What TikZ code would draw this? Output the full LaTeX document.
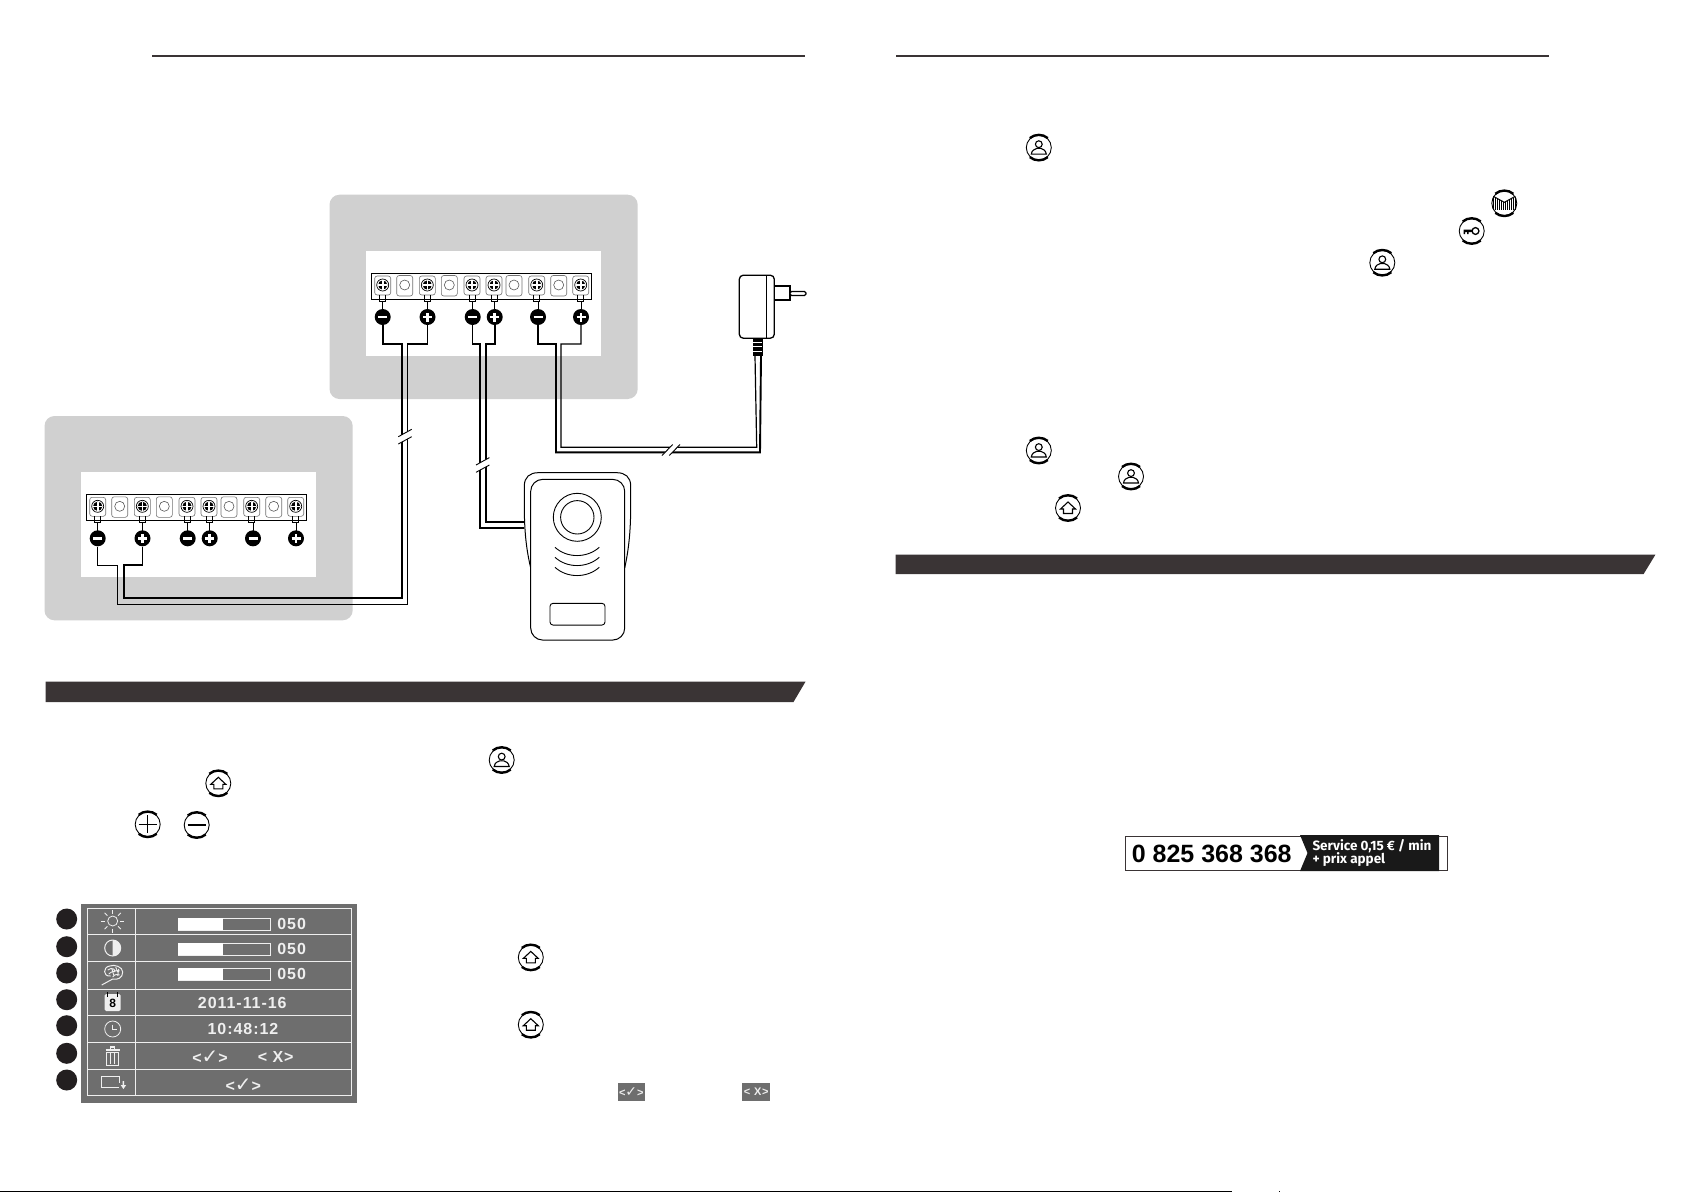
\documentclass[tikz,border=0pt]{standalone}
\usepackage{fontspec}
\newfontfamily\menufont[LetterSpace=6]{Liberation Sans Bold}
\newfontfamily\numfont{Liberation Sans Bold}
\newfontfamily\symfont{DejaVu Sans}
\newfontfamily\tagfont{Fira Sans}
\definecolor{boxgray}{HTML}{D0D0D0}
\definecolor{bardark}{HTML}{3A3435}
\definecolor{panelgray}{HTML}{6E6E6E}
\definecolor{menuwhite}{HTML}{EFEFEF}
\newcommand{\okmark}[1]{{\symfont\fontsize{#1}{#1}\selectfont\char"2713}}
\tikzset{
  ringbtn/.pic={
    \draw[line width=.9] (0,0) circle[radius=12.5pt];
    \draw[line width=2.4] (-9,-9.5) .. controls (-4,-13.8) and (4,-13.8) .. (9,-9.5);
    \draw[line width=2.4] (-9,9.5) .. controls (-4,13.8) and (4,13.8) .. (9,9.5);
  },
  personbtn/.pic={
    \pic {ringbtn};
    \draw[line width=1.1] (0,-3.4) circle[radius=3.4pt];
    \draw[line width=1.1] (-7.5,6.5) .. controls (-7,2.5) and (-4,1.5) .. (-2,.8) -- (2,.8) .. controls (4,1.5) and (7,2.5) .. (7.5,6.5) -- cycle;
  },
  homebtn/.pic={
    \pic {ringbtn};
    \draw[line width=1.1] (0,-6) -- (-7.5,1) -- (-4.5,1) -- (-4.5,5.5) -- (4.5,5.5) -- (4.5,1) -- (7.5,1) -- cycle;
  },
  plusbtn/.pic={
    \pic {ringbtn};
    \draw[line width=1.2] (-9,0) -- (9,0) (0,-9) -- (0,9);
  },
  minusbtn/.pic={
    \pic {ringbtn};
    \draw[line width=1.2] (-9,0) -- (9,0);
  },
  keybtn/.pic={
    \pic {ringbtn};
    \draw[line width=1.3] (3.8,0) circle[radius=3.4pt];
    \fill (-8,-1.5) rectangle (.8,1) (-8,1) rectangle (-6.5,3) (-4.5,1) rectangle (-3,3);
  },
  gatebtn/.pic={
    \pic {ringbtn};
    \foreach \gx/\gy in {-11/-6,-9/-5,-7/-4,-5/-3,-3/-2,-1/-1,1/-1,3/-2,5/-3,7/-4,9/-5,11/-6}
      \draw[line width=.8] (\gx,\gy) -- (\gx,6.5);
    \draw[line width=1] (-11,-7) -- (0,-1) -- (11,-7);
  },
  cutv/.pic={
    \fill[white] (-6.7,0) -- (6.7,-7.4) -- (6.7,0) -- (-6.7,7.3) -- cycle;
    \draw[line width=.9] (-6.7,0) -- (6.7,-7.4) (-6.7,7.3) -- (6.7,0);
  },
  cuth/.pic={
    \fill[white] (-9,5.5) -- (1.7,-5.5) -- (9,-5.5) -- (-1.7,5.5) -- cycle;
    \draw[line width=.9] (-9,5.5) -- (1.7,-5.5) (-1.7,5.5) -- (9,-5.5);
  },
  unitbox/.pic={
    \fill[boxgray,rounded corners=10] (329.5,194.7) rectangle (637.7,399);
    \fill[white] (366,251) rectangle (601,355.7);
    \draw[line width=.9] (371.7,273.3) rectangle (591.7,299.3);
    \foreach \hx in {404.7,449.3,514,558.7} {
      \draw[black!55,line width=.6,rounded corners=2.5] (\hx-8,275.5) rectangle (\hx+8,296);
      \draw[black!65,line width=.6] (\hx,285) circle[radius=5pt];
    }
    \foreach \sx in {382.7,427.3,472,494,536.7,580.7} {
      \draw[black!55,line width=.6,rounded corners=2.5] (\sx-8,276) rectangle (\sx+8,295);
      \draw[line width=.7] (\sx,285) circle[radius=6pt];
      \fill (\sx,285) circle[radius=4.6pt];
      \draw[white,line width=1.6] (\sx-4.6,285) -- (\sx+4.6,285) (\sx,280.4) -- (\sx,289.6);
      \draw[line width=1] (\sx-3,295) -- (\sx-3,301) -- (\sx+3,301) -- (\sx+3,295);
    }
    \foreach \bx/\bn/\bk in {382.7/1/minusmark,427.5/2/plusmark,472.7/3/minusmark,494.7/4/plusmark,538/5/minusmark,581/6/plusmark} {
      \draw[line width=1] (\bx,301) -- (\bx,310);
      \node[badgedot,\bk] (-b\bn) at (\bx,317) {};
    }
  },
  sunicon/.pic={
    \draw[menuwhite,line width=.8] (0,0) circle[radius=5pt];
    \foreach \a in {0,45,...,315}
      \draw[menuwhite,line width=.8] (\a:7.5pt) -- (\a:11.5pt);
  },
  halficon/.pic={
    \draw[menuwhite,line width=1] (0,0) circle[radius=8pt];
    \fill[menuwhite] (0,-8) arc[start angle=90,end angle=-90,radius=8pt] -- cycle;
  },
  brainicon/.pic={
    \draw[menuwhite,line width=1] (-2,2) .. controls (-10,3) and (-10,-7) .. (-3,-8) .. controls (2,-10) and (10,-7) .. (10,-2) .. controls (10,4) and (5,6) .. (0,5) -- (-11,11);
    \draw[menuwhite,line width=.9] (-5,-4) .. controls (-1,-7) and (3,-5) .. (2,-2) (-4,0) .. controls (-1,-3) and (5,-4) .. (7,-3) (0,3) .. controls (2,0) and (5,0) .. (7,1) (3,-7) -- (5,-2) (-1,-6) -- (1,1) (5,2) -- (6,-5);
  },
  calicon/.pic={
    \fill[menuwhite,rounded corners=1.5] (-8,-8) rectangle (8,9);
    \draw[black,line width=1.2] (-5,-10) -- (-5,-5) (5,-10) -- (5,-5);
    \node[text=black,font=\numfont\fontsize{12}{12}\selectfont,inner sep=0] (-day) at (0,1.5) {8};
  },
  clockicon/.pic={
    \draw[menuwhite,line width=.8] (0,0) circle[radius=8pt];
    \draw[menuwhite,line width=.8] (0,-4.5) -- (0,0) -- (4,0);
  },
  binicon/.pic={
    \draw[menuwhite,line width=1.1] (-7,-6) -- (7,-6) (-2,-6) -- (-2,-9) -- (2,-9) -- (2,-6);
    \draw[menuwhite,line width=1] (-6,-4) -- (-6,9) -- (6,9) -- (6,-4) -- cycle;
    \draw[menuwhite,line width=.9] (-2,-3) -- (-2,8) (2,-3) -- (2,8);
  },
  screenicon/.pic={
    \draw[menuwhite,line width=.8] (6,5) -- (-11,5) -- (-11,-6) -- (7,-6) -- (7,1);
    \fill[menuwhite] (10,-1) rectangle (11.5,3) (8,3) -- (13.5,3) -- (10.7,7) -- cycle;
  }
}
\begin{document}
\begin{tikzpicture}[x=1pt,y=-1pt,
  badgedot/.style={circle,fill=black,inner sep=0,minimum size=16pt},
  minusmark/.style={path picture={\draw[white,line width=2.6] (path picture bounding box.center) ++(-4.5pt,0) -- ++(9pt,0);}},
  plusmark/.style={path picture={\draw[white,line width=2.6] (path picture bounding box.center) ++(-4.5pt,0) -- ++(9pt,0) (path picture bounding box.center) ++(0,-4.5pt) -- ++(0,9pt);}},
  wirefat/.style={line width=1.9},
  wirelean/.style={line width=1.2},
  numdot/.style={circle,fill=bardark!60!black,inner sep=0,minimum size=21pt},
  menutext/.style={text=menuwhite,font=\menufont\fontsize{16}{16}\selectfont,inner sep=0},
  tagtext/.style={text=white,font=\tagfont\bfseries\fontsize{13.5}{13.5}\selectfont,inner sep=0,anchor=west},
  plugbody/.style={draw,fill=white,line width=1.3,rounded corners=4,minimum width=35pt,minimum height=63pt,inner sep=0},
  doorbody/.style={draw,fill=white,line width=1,rounded corners=12,minimum width=94pt,minimum height=160.7pt,inner sep=0}]
  \useasboundingbox (0,0) rectangle (1702,1192);

  \draw[bardark,line width=2.4] (152,55.7) -- (805,55.7);
  \draw[bardark,line width=2.4] (896,55.7) -- (1549,55.7);
  \fill[bardark] (45.6,681.7) -- (805.5,681.7) -- (793.5,702) -- (45.6,702) -- cycle;
  \fill[bardark] (895.5,554.7) -- (1655.4,554.7) -- (1643.5,574.2) -- (895.5,574.2) -- cycle;

  \pic (top) at (0,0) {unitbox};
  \pic (low) at (-285,221.3) {unitbox};

  \node[plugbody] (plug) at (756.8,306.7) {};
  \draw[line width=1.1] (766.7,275) -- (766.7,338.2);
  \draw[line width=1.1,fill=white] (774.3,286) rectangle (790,300);
  \draw[line width=1.1,fill=white,rounded corners=1.5] (790,291.5) rectangle (806,295.5);
  \fill (752.5,338) rectangle (762.7,356);
  \foreach \ry in {342,346.5,351}
    \draw[white,line width=.8] (753,\ry) -- (762,\ry);
  \coordinate (cordA) at (755,356);
  \coordinate (cordB) at (761,356);

  \draw[line width=1,fill=white] (530.7,568) .. controls (526,548) and (524.3,530) .. (524.3,505) -- (524.3,486) .. controls (524.3,477) and (530,472.7) .. (538,472.7) -- (617,472.7) .. controls (625,472.7) and (630.7,477) .. (630.7,486) -- (630.7,505) .. controls (630.7,530) and (629,548) .. (624.7,568);
  \node[doorbody] (door) at (577.7,559.7) {};
  \node[draw,circle,line width=.9,minimum size=48pt,inner sep=0] (lens) at (577.3,517.3) {};
  \node[draw,circle,line width=.9,minimum size=33.4pt,inner sep=0] (lensin) at (577.3,517.3) {};
  \foreach \sy in {547.3,557.3,567.3}
    \draw[line width=.9] (555,\sy) .. controls (567,\sy+11) and (587,\sy+11) .. (599.3,\sy);
  \node[draw,line width=.9,rounded corners=3,minimum width=55pt,minimum height=21.7pt,inner sep=0] (callkey) at (577.5,614.2) {};
  \coordinate (doorA) at (524.3,521.7);
  \coordinate (doorB) at (524.3,528);

  \draw[wirefat] (top-b1.south) |- (402,344) -- (402,598) -- (124.3,598) -- (124.3,565.3) -| (low-b2.south);
  \draw[wirelean] (top-b2.south) |- (407.3,344) -- (407.3,604.3) -- (117.7,604.3) -- (117.7,565.3) -| (low-b1.south);
  \draw[wirelean] (top-b3.south) |- (480,344) -- (480,528) -- (doorB);
  \draw[wirefat] (top-b4.south) |- (486,344) -- (486,521.7) -- (doorA);
  \draw[wirefat] (top-b5.south) |- (556,344) -- (556,452.3) -- (760,452.3) -- (cordB);
  \draw[wirelean] (top-b6.south) |- (561,344) -- (561,447.3) -- (756.7,447.3) -- (cordA);

  \pic at (405,436.7) {cutv};
  \pic at (482.7,465) {cutv};
  \pic at (671,450) {cuth};

  \pic at (1038.8,147.6) {personbtn};
  \pic at (1504.3,203.3) {gatebtn};
  \pic at (1471.7,231) {keybtn};
  \pic at (1382.3,262.7) {personbtn};
  \pic at (1038.8,450.5) {personbtn};
  \pic at (1131,476.5) {personbtn};
  \pic at (1068,508) {homebtn};
  \pic at (501.7,760) {personbtn};
  \pic at (218.3,783.3) {homebtn};
  \pic at (147.7,824.3) {plusbtn};
  \pic at (196.7,825) {minusbtn};
  \pic at (530.8,957.4) {homebtn};
  \pic at (530.8,1024.7) {homebtn};

  \foreach \ny [count=\ni] in {919,946.7,973,999.7,1025.7,1053.3,1080}
    \node[numdot] (num\ni) at (66.7,\ny) {};
  \fill[panelgray] (81,904) rectangle (356.7,1102.7);
  \draw[menuwhite,line width=.9] (87.3,908.3) rectangle (351,1095.7);
  \draw[menuwhite,line width=.9] (135,908.3) -- (135,1095.7);
  \foreach \ry in {934.3,961,989,1015.7,1042.3,1069.3}
    \draw[menuwhite,line width=.9] (87.3,\ry) -- (351,\ry);
  \foreach \ry [count=\ri] in {924,949.3,974.3} {
    \draw[menuwhite,line width=.8] (178.3,\ry-6) rectangle (270,\ry+6);
    \fill[white] (178.3,\ry-6) rectangle (222.7,\ry+6);
    \node[menutext] (level\ri) at (291.7,\ry) {050};
  }
  \node[menutext] (date) at (242.3,1003.3) {2011-11-16};
  \node[menutext] (time) at (243,1029.3) {10:48:12};
  \node[menutext] (binyes) at (210,1056.7) {<\okmark{20}>};
  \node[menutext] (binno) at (275.7,1056.7) {< X>};
  \node[menutext] (saveyes) at (243.3,1085) {<\okmark{20}>};
  \pic at (112.7,921) {sunicon};
  \pic at (112.7,948) {halficon};
  \pic at (112.7,974) {brainicon};
  \pic at (112.7,1002) {calicon};
  \pic at (112.7,1029) {clockicon};
  \pic at (112.7,1056) {binicon};
  \pic at (112.7,1082) {screenicon};

  \fill[panelgray] (617.7,1082.7) rectangle (645,1101);
  \node[menutext,font=\menufont\fontsize{11}{11}\selectfont] (askyes) at (631.3,1091.8) {<\okmark{14}>};
  \fill[panelgray] (742.3,1082.7) rectangle (770,1101);
  \node[menutext,font=\menufont\fontsize{11}{11}\selectfont] (askno) at (756.2,1091.8) {< X>};

  \draw[bardark,line width=1] (1125,836) rectangle (1447.3,870);
  \node[font=\numfont\fontsize{25}{25}\selectfont,inner sep=0] (phone) at (1211.7,854) {0 825 368 368};
  \fill[black!90] (1300,835) -- (1439,835) -- (1439,871) -- (1300,871) -- (1307.5,853) -- cycle;
  \node[tagtext] (rate) at (1312.3,845.7) {Service 0,15 € / min};
  \node[tagtext] (extra) at (1312.3,860) {+ prix appel};

  \draw[line width=1] (0,1191.3) -- (1232.3,1191.3);
  \fill (1278.5,1190.8) rectangle (1279.8,1192);
\end{tikzpicture}
\end{document}
